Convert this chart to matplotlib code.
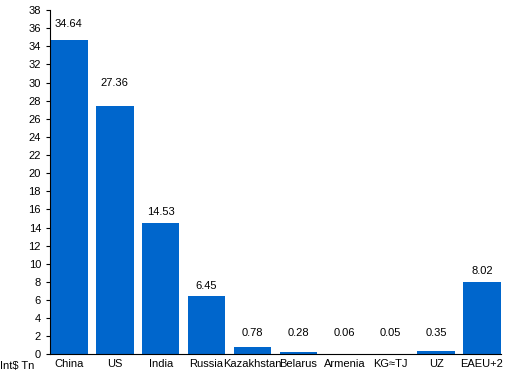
import matplotlib.pyplot as plt
import numpy as np

plt.rcParams['font.family'] = ['Liberation Sans', 'DejaVu Sans']

# Данные
countries = ["China", "US", "India", "Russia", "Kazakhstan", "Belarus", "Armenia", "KG≈TJ", "UZ", "EAEU+2"]
values = [34.64, 27.36, 14.53, 6.45, 0.78, 0.28, 0.06, 0.05, 0.35, 8.02]
yticks = list(range(0, 40, 2))

# высота подписей над столбцами (в единицах оси)
label_y = [36.4, 30.0, 15.7, 7.5, 2.35, 2.35, 2.35, 2.35, 2.35, 9.25]

fig = plt.figure(figsize=(5.2, 3.7), dpi=100)
ax = fig.add_axes([0.0962, 0.042, 0.867, 0.931])

x = np.arange(len(countries))
ax.bar(x, values, width=0.82, color='#0066cc')

for xi, v, ly in zip(x, values, label_y):
    ax.text(xi, ly, f"{v:.2f}", ha='center', va='center', fontsize=8)

ax.set_xlim(-0.41, len(countries) - 1 + 0.41)
ax.set_ylim(0, 38)
ax.set_yticks(yticks)
ax.set_xticks(x)
ax.set_xticklabels(countries)
ax.tick_params(axis='both', labelsize=8, length=3, width=0.8)
ax.tick_params(axis='x', length=0, pad=3.5)
ax.spines['top'].set_visible(False)
ax.spines['right'].set_visible(False)

fig.text(0.0, -0.002, "Int$ Tn", fontsize=8, ha='left', va='bottom')

plt.savefig('out.png', dpi=100)
